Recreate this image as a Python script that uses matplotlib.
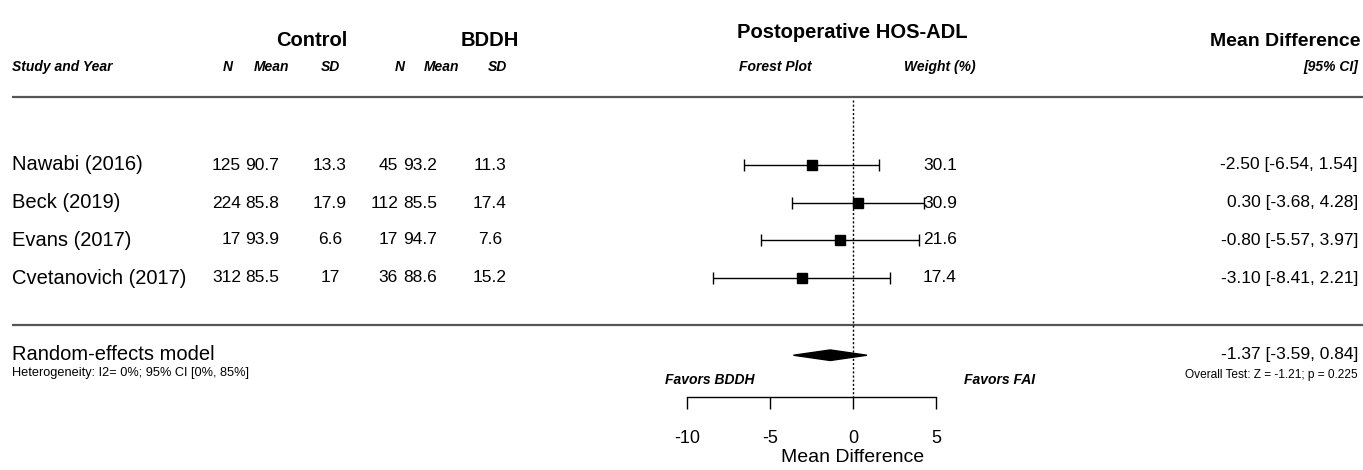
import matplotlib as mpl
mpl.use('Agg')
import matplotlib.pyplot as plt
from matplotlib.patches import Polygon

plt.rcParams['font.family'] = ['Liberation Sans', 'DejaVu Sans']

# study data
studies = ['Nawabi (2016)', 'Beck (2019)', 'Evans (2017)', 'Cvetanovich (2017)']
ctrl_n = [125, 224, 17, 312]
ctrl_mean = ['90.7', '85.8', '93.9', '85.5']
ctrl_sd = ['13.3', '17.9', '6.6', '17']
bddh_n = [45, 112, 17, 36]
bddh_mean = ['93.2', '85.5', '94.7', '88.6']
bddh_sd = ['11.3', '17.4', '7.6', '15.2']
md = [-2.50, 0.30, -0.80, -3.10]
ci_lo = [-6.54, -3.68, -5.57, -8.41]
ci_hi = [1.54, 4.28, 3.97, 2.21]
weight = [30.1, 30.9, 21.6, 17.4]

# pooled estimate
pool_md = -1.37
pool_lo = -3.59
pool_hi = 0.84
xticks = [-10, -5, 0, 5]

W, H = 1363, 470
fig = plt.figure(figsize=(W / 100, H / 100), dpi=100)

# background axes in pixel units for the table text
bg = fig.add_axes([0, 0, 1, 1])
bg.set_xlim(0, W)
bg.set_ylim(H, 0)
bg.axis('off')

row_y = [165, 203, 240, 278]
row_step = 37.67

# forest axes: -10 -> px 687, 5 -> px 936
px_per = (936 - 687) / 15.0
x_left = 687 - 2 * px_per
top_px = 97
ax = fig.add_axes([x_left / W, 0, 20 * px_per / W, (H - top_px) / H])
ax.set_xlim(-12, 8)
ax.set_ylim((H - row_y[0]) / row_step, (top_px - row_y[0]) / row_step)
ax.patch.set_alpha(0)

# headers
bg.text(852, 33, 'Postoperative HOS-ADL', ha='center', va='center', fontsize=14.5, fontweight='bold')
bg.text(312, 41, 'Control', ha='center', va='center', fontsize=14.5, fontweight='bold')
bg.text(490, 41, 'BDDH', ha='center', va='center', fontsize=14.5, fontweight='bold')
bg.text(1360, 41, 'Mean Difference', ha='right', va='center', fontsize=14, fontweight='bold')

sub = dict(va='center', fontsize=10, fontweight='bold', style='italic')
bg.text(12, 67, 'Study and Year', ha='left', **sub)
for x, s in [(228, 'N'), (272, 'Mean'), (330, 'SD'), (400, 'N'), (442, 'Mean'), (497, 'SD'),
             (775, 'Forest Plot'), (940, 'Weight (%)')]:
    bg.text(x, 67, s, ha='center', **sub)
bg.text(1358, 67, '[95% CI]', ha='right', **sub)

# separators
for y in (97, 325):
    bg.plot([12, W], [y, y], color='#555555', lw=1.6, solid_capstyle='butt')

# rows
fs = 12.5
for i, y in enumerate(row_y):
    bg.text(12, y, studies[i], ha='left', va='center', fontsize=14.5)
    bg.text(241, y, str(ctrl_n[i]), ha='right', va='center', fontsize=fs)
    bg.text(262, y, ctrl_mean[i], ha='center', va='center', fontsize=fs)
    bg.text(330, y, ctrl_sd[i], ha='center', va='center', fontsize=fs)
    bg.text(398, y, str(bddh_n[i]), ha='right', va='center', fontsize=fs)
    bg.text(420, y, bddh_mean[i], ha='center', va='center', fontsize=fs)
    bg.text(490, y, bddh_sd[i], ha='center', va='center', fontsize=fs)
    bg.text(940, y, '%.1f' % weight[i], ha='center', va='center', fontsize=fs)
    bg.text(1358, y, '%.2f [%.2f, %.2f]' % (md[i], ci_lo[i], ci_hi[i]),
            ha='right', va='center', fontsize=fs)

# forest marks
for i in range(len(studies)):
    ax.errorbar(md[i], i, xerr=[[md[i] - ci_lo[i]], [ci_hi[i] - md[i]]],
                fmt='s', color='black', ms=5.8 + 0.045 * weight[i],
                elinewidth=1.0, capsize=4, capthick=1.0)

# pooled diamond
y_pool = 5.05
h = 0.14
ax.add_patch(Polygon([(pool_lo, y_pool), (pool_md, y_pool - h), (pool_hi, y_pool), (pool_md, y_pool + h)],
                     closed=True, color='black'))

y_axis = (397 - row_y[0]) / row_step
ax.plot([0, 0], [(100 - row_y[0]) / row_step, y_axis], color='black', lw=1.0, ls=(0, (1.5, 1.5)))

# bottom axis as bracket
for s in ('top', 'left', 'right'):
    ax.spines[s].set_visible(False)
ax.spines['bottom'].set_position(('data', y_axis))
ax.spines['bottom'].set_bounds(-10, 5)
ax.spines['bottom'].set_linewidth(1.0)
ax.set_xticks(xticks)
ax.set_xticklabels([str(t) for t in xticks])
ax.tick_params(axis='x', direction='out', length=8.5, width=1.0, pad=15, labelsize=13)
ax.set_yticks([])
ax.set_xlabel('Mean Difference', fontsize=14, labelpad=0)
ax.xaxis.label.set_va('center')
ax.xaxis.set_label_coords(0, (458 - row_y[0]) / row_step, transform=ax.transData)

y_fav = (380 - row_y[0]) / row_step
ax.text(-8.6, y_fav, 'Favors BDDH', ha='center', va='center',
        fontsize=10, fontweight='bold', style='italic')
ax.text(8.8, y_fav, 'Favors FAI', ha='center', va='center',
        fontsize=10, fontweight='bold', style='italic', clip_on=False)

# summary text
bg.text(12, 355, 'Random-effects model', ha='left', va='center', fontsize=14.5)
bg.text(12, 373, 'Heterogeneity: I2= 0%; 95% CI [0%, 85%]', ha='left', va='center', fontsize=9.2)
bg.text(1358, 355, '%.2f [%.2f, %.2f]' % (pool_md, pool_lo, pool_hi), ha='right', va='center', fontsize=12.5)
bg.text(1358, 375, 'Overall Test: Z = -1.21; p = 0.225', ha='right', va='center', fontsize=8.6)

fig.savefig('out.png', dpi=100)
